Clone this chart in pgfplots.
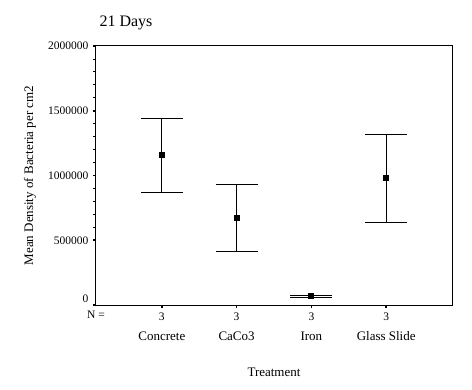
\documentclass[border=0pt]{standalone}
\usepackage{fontspec}
\setmainfont{Liberation Serif}
\usepackage{pgfplots}
\pgfplotsset{compat=1.18}
\begin{document}
\begin{tikzpicture}[x=1pt,y=1pt]
\useasboundingbox (0,0) rectangle (472,389);
\begin{axis}[
  at={(96pt,84pt)}, anchor=south west,
  scale only axis, width=356pt, height=259pt,
  xmin=0.12, xmax=4.88, ymin=0, ymax=2000000,
  axis line style={line width=1pt},
  tick align=outside,
  xtick={1,2,3,4}, xticklabels={3,3,3,3},
  xtick pos=bottom, ytick pos=left,
  ytick={500000,1000000,1500000,2000000},
  extra y ticks={0},
  extra y tick style={yticklabel style={yshift=6pt}},
  minor y tick num=4,
  major tick length=3pt, minor tick length=2.5pt,
  major tick style={line width=1.6pt, black},
  minor tick style={line width=0.8pt, black},
  scaled y ticks=false,
  /pgf/number format/.cd, fixed, 1000 sep={}, assume math mode=true,
  /pgfplots/.cd,
  tick label style={font=\fontsize{11.5}{13}\selectfont},
  yticklabel style={xshift=-1pt},
  xticklabel style={yshift=-1pt},
  ylabel={Mean Density of Bacteria per cm2},
  every axis y label/.style={at={(axis description cs:0,0.5)}, xshift=-66pt, rotate=90, anchor=center, font=\fontsize{13}{15}\selectfont},
  xlabel={Treatment},
  every axis x label/.style={at={(axis description cs:0.5,0)}, yshift=-67pt, anchor=center, font=\fontsize{13}{15}\selectfont},
  clip=false,
]
\addplot[black, line width=1pt, only marks, mark=square*, mark size=2.5pt,
  error bars/.cd, y dir=both, y explicit,
  error bar style={line width=1pt, black},
  error mark options={rotate=90, mark size=21pt, line width=1pt, black}]
  coordinates {
  (1,1155000) += (0,285000) -= (0,288000)
  (2,668000) += (0,261000) -= (0,258000)
  (3,67000) += (0,10000) -= (0,10000)
  (4,983000) += (0,333000) -= (0,348000)
  };
\node[font=\fontsize{13}{15}\selectfont, anchor=center] at (axis cs:1,0) [yshift=-31pt] {Concrete};
\node[font=\fontsize{13}{15}\selectfont, anchor=center] at (axis cs:2,0) [yshift=-31pt] {CaCo3};
\node[font=\fontsize{13}{15}\selectfont, anchor=center] at (axis cs:3,0) [yshift=-31pt] {Iron};
\node[font=\fontsize{13}{15}\selectfont, anchor=center] at (axis cs:4,0) [yshift=-31pt] {Glass Slide};
\node[font=\fontsize{11.5}{13}\selectfont, anchor=center] at (rel axis cs:0,0) [yshift=-10pt] {N =};
\node[font=\fontsize{16}{18}\selectfont, anchor=base west] at (rel axis cs:0,1) [yshift=19pt] {21 Days};
\end{axis}
\end{tikzpicture}
\end{document}
